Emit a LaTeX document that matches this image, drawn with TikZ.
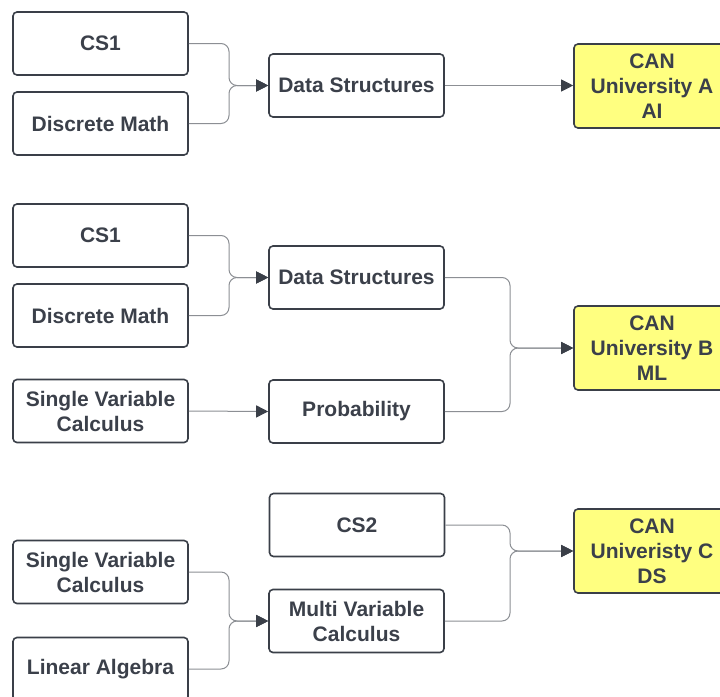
\documentclass[tikz,border=0pt]{standalone}
\usepackage{fontspec}
\setmainfont{Liberation Sans}
\usetikzlibrary{arrows.meta}
\definecolor{boxline}{HTML}{3A3F48}
\definecolor{boxtext}{HTML}{3B404A}
\definecolor{wire}{HTML}{8C8F94}
\definecolor{canfill}{HTML}{FFFF80}
\tikzset{
  course/.style={draw=boxline, line width=1.6pt, rounded corners=4pt, fill=white,
    minimum width=175pt, minimum height=63pt, align=center, text=boxtext,
    font=\fontsize{21}{25}\selectfont\bfseries},
  can/.style={course, fill=canfill, minimum width=156pt, minimum height=84pt},
  wire/.style={draw=wire, line width=1pt, rounded corners=8pt,
    -{Triangle[length=12pt,width=12pt,color=boxline]}}
}
\begin{document}
\begin{tikzpicture}[x=1pt,y=-1pt]
    \clip (0,0) rectangle (720,696);
    \fill[white] (0,0) rectangle (720,696);

    % Pathway A
    \node[course] (csA) at (100.5,43.5) {CS1};
    \node[course] (dmA) at (100.5,123.5) {Discrete Math};
    \node[course] (dsA) at (356.5,85.5) {Data Structures};
    \node[can] (canA) at (652,86) {CAN\\University A\\AI};
    \coordinate (mA) at (229,85.5);
    \draw[wire] (csA.east) -| (mA) -- (dsA.west);
    \draw[wire] (dmA.east) -| (mA) -- (dsA.west);
    \draw[wire] (dsA.east) -- (canA.west |- dsA.east);

    % Pathway B
    \node[course] (csB) at (100.5,235.5) {CS1};
    \node[course] (dmB) at (100.5,315.5) {Discrete Math};
    \node[course] (svB) at (100.5,411) {Single Variable\\Calculus};
    \node[course] (dsB) at (356.5,277.5) {Data Structures};
    \node[course] (prB) at (356.5,411.5) {Probability};
    \node[can] (canB) at (652,348) {CAN\\University B\\ML};
    \coordinate (mB1) at (229,277.5);
    \coordinate (mB2) at (510,348);
    \draw[wire] (csB.east) -| (mB1) -- (dsB.west);
    \draw[wire] (dmB.east) -| (mB1) -- (dsB.west);
    \draw[wire] (svB.east) -- (prB.west);
    \draw[wire] (dsB.east) -| (mB2) -- (canB.west);
    \draw[wire] (prB.east) -| (mB2) -- (canB.west);

    % Pathway C
    \node[course] (csC) at (357,525) {CS2};
    \node[course] (svC) at (100.5,572) {Single Variable\\Calculus};
    \node[course] (laC) at (100.5,669) {Linear Algebra};
    \node[course] (mvC) at (356.5,621) {Multi Variable\\Calculus};
    \node[can] (canC) at (652,551) {CAN\\Univeristy C\\DS};
    \coordinate (mC1) at (229,621);
    \coordinate (mC2) at (510,551);
    \draw[wire] (svC.east) -| (mC1) -- (mvC.west);
    \draw[wire] (laC.east) -| (mC1) -- (mvC.west);
    \draw[wire] (csC.east) -| (mC2) -- (canC.west);
    \draw[wire] (mvC.east) -| (mC2) -- (canC.west);
\end{tikzpicture}
\end{document}
